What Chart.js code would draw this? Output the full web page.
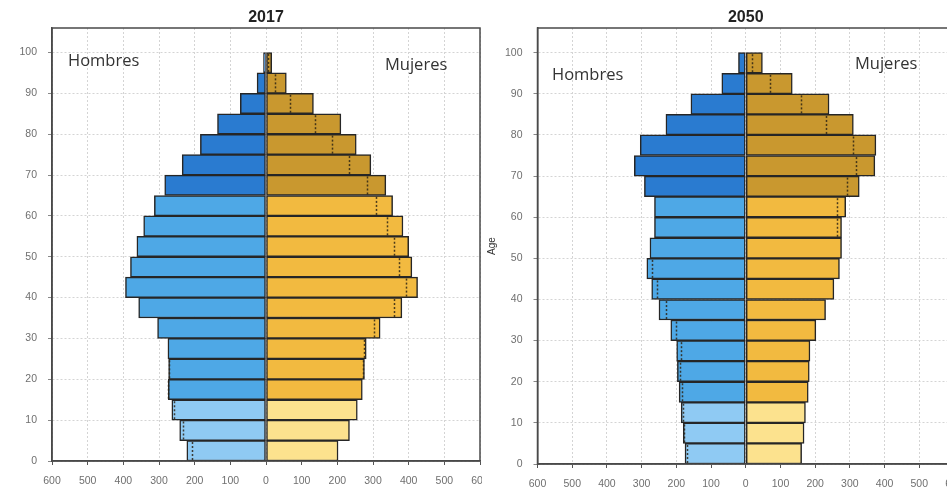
<!DOCTYPE html>
<html>
<head>
<meta charset="utf-8">
<script src="https://cdn.jsdelivr.net/npm/chart.js@4.4.1/dist/chart.umd.min.js"></script>
<style>
  html, body { margin: 0; padding: 0; background: #fff; overflow: hidden; width: 947px; height: 490px; }
  .box { position: absolute; top: 0; height: 490px; }
  #boxLeft { left: 0; width: 482px; }
  #boxRight { left: 482px; width: 476px; }
</style>
</head>
<body>
<div class="box" id="boxLeft"><canvas id="chart2017"></canvas></div>
<div class="box" id="boxRight"><canvas id="chart2050"></canvas></div>
<script>
// Grupos de edad (inicio de cada tramo de 5 años), de abajo hacia arriba
const ageStart = [0, 5, 10, 15, 20, 25, 30, 35, 40, 45, 50, 55, 60, 65, 70, 75, 80, 85, 90, 95];

// 2017 (miles de personas)
const hombres2017 = [222, 242, 264, 274, 273, 275, 304, 357, 394, 380, 362, 343, 313, 284, 235, 184, 136, 72, 25, 7];
const mujeres2017 = [202, 234, 256, 270, 276, 281, 320, 381, 425, 409, 400, 384, 355, 336, 294, 253, 210, 133, 57, 16];
// líneas punteadas (valores de referencia dentro de cada barra)
const hombresRef2017 = [207, 234, 257, 274, 271, null, null, null, null, null, null, null, null, null, null, null, null, null, null, null];
const mujeresRef2017 = [null, null, null, null, 271, 274, 302, 358, 393, 374, 360, 339, 309, 283, 234, 185, 136, 68, 26, 7];

// 2050
const hombres2050 = [175, 180, 186, 192, 197, 199, 216, 250, 271, 285, 276, 263, 263, 292, 321, 304, 230, 158, 69, 21];
const mujeres2050 = [161, 168, 172, 180, 183, 185, 202, 230, 254, 270, 276, 276, 288, 327, 372, 375, 310, 240, 134, 48];
const hombresRef2050 = [170, 178, 182, 184, 189, 187, 202, 230, 256, 271, null, null, null, null, null, null, null, null, null, null];
const mujeresRef2050 = [null, null, null, null, null, null, null, null, null, null, null, 262, 262, 293, 318, 308, 230, 158, 70, 17];

const xTicks = [-600, -500, -400, -300, -200, -100, 0, 100, 200, 300, 400, 500, 600];

// colores: 0-14 claro, 15-64 medio, 65+ oscuro
const azul = { claro: '#8fcaf3', medio: '#4ea8e6', oscuro: '#2a7bd0' };
const oro = { claro: '#fce28e', medio: '#f2ba40', oscuro: '#c9982f' };

function colores(pal) {
    return ageStart.map(a => a < 15 ? pal.claro : (a < 65 ? pal.medio : pal.oscuro));
}

// plugin: marco, título, textos y líneas punteadas
const piramidePlugin = {
    id: 'piramide',
    afterDatasetsDraw(chart, args, opts) {
        const { ctx, chartArea, scales } = chart;
        const xs = scales.x, ys = scales.y;

        // líneas punteadas de referencia
        ctx.save();
        ctx.setLineDash([2, 2]);
        ctx.lineWidth = 1.5;
        ctx.strokeStyle = 'rgba(45,35,20,0.85)';
        const drawRef = (vals, sign) => {
            vals.forEach((v, i) => {
                if (v == null) return;
                const x = Math.round(xs.getPixelForValue(sign * v)) + 0.5;
                const y0 = ys.getPixelForValue(ageStart[i]);
                const y1 = ys.getPixelForValue(ageStart[i] + 5);
                ctx.beginPath();
                ctx.moveTo(x, y0 - 1);
                ctx.lineTo(x, y1 + 1);
                ctx.stroke();
            });
        };
        drawRef(opts.refHombres, -1);
        drawRef(opts.refMujeres, 1);
        ctx.restore();

        // marco
        ctx.save();
        ctx.strokeStyle = '#4a4a4a';
        ctx.lineWidth = 1.5;
        ctx.strokeRect(chartArea.left, chartArea.top, chartArea.right - chartArea.left, chartArea.bottom - chartArea.top);
        ctx.restore();

        // título
        ctx.save();
        ctx.fillStyle = '#222';
        ctx.font = 'bold 16px "Liberation Sans", Arial, sans-serif';
        ctx.textAlign = 'center';
        ctx.textBaseline = 'middle';
        ctx.fillText(opts.titulo, (chartArea.left + chartArea.right) / 2, 18);

        // Hombres / Mujeres
        ctx.fillStyle = '#333';
        ctx.font = '16.5px "Open Sans", sans-serif';
        ctx.textAlign = 'left';
        ctx.fillText('Hombres', opts.hombresPos[0], opts.hombresPos[1]);
        ctx.fillText('Mujeres', opts.mujeresPos[0], opts.mujeresPos[1]);

        // título del eje Y
        if (opts.ejeY) {
            ctx.save();
            ctx.translate(10, 246);
            ctx.rotate(-Math.PI / 2);
            ctx.textAlign = 'center';
            ctx.font = '10px "Liberation Sans", Arial, sans-serif';
            ctx.fillStyle = '#333';
            ctx.fillText(opts.ejeY, 0, 0);
            ctx.restore();
        }
        ctx.restore();
    }
};

function sinPadding(s) {
    s.paddingLeft = 0;
    s.paddingRight = 0;
    s.paddingTop = 0;
    s.paddingBottom = 0;
}

function crearPiramide(canvasId, cfg) {
    const tickFont = { family: '"Liberation Sans", Arial, sans-serif', size: 10.5 };
    return new Chart(document.getElementById(canvasId), {
        type: 'bar',
        data: {
            datasets: [
                {
                    label: 'Hombres',
                    data: cfg.hombres.map((v, i) => ({ x: -v, y: ageStart[i] + 2.5 })),
                    backgroundColor: colores(azul),
                    borderColor: '#262626',
                    borderWidth: 1.5,
                    borderSkipped: false,
                    grouped: false,
                    categoryPercentage: 1,
                    barPercentage: 1
                },
                {
                    label: 'Mujeres',
                    data: cfg.mujeres.map((v, i) => ({ x: v, y: ageStart[i] + 2.5 })),
                    backgroundColor: colores(oro),
                    borderColor: '#262626',
                    borderWidth: 1.5,
                    borderSkipped: false,
                    grouped: false,
                    categoryPercentage: 1,
                    barPercentage: 1
                }
            ]
        },
        options: {
            indexAxis: 'y',
            responsive: true,
            maintainAspectRatio: false,
            animation: false,
            layout: { padding: { top: 28, right: cfg.padRight, left: 0, bottom: 0 } },
            plugins: {
                legend: { display: false },
                tooltip: { enabled: false },
                piramide: {
                    titulo: cfg.titulo,
                    refHombres: cfg.refHombres,
                    refMujeres: cfg.refMujeres,
                    hombresPos: cfg.hombresPos,
                    mujeresPos: cfg.mujeresPos,
                    ejeY: cfg.ejeY
                }
            },
            scales: {
                x: {
                    type: 'linear',
                    min: -600,
                    max: 600,
                    offset: false,
                    afterBuildTicks: s => { s.ticks = xTicks.map(v => ({ value: v })); },
                    ticks: {
                        callback: v => Math.abs(v),
                        font: tickFont,
                        color: '#6f6f6f',
                        padding: 10,
                        maxRotation: 0
                    },
                    grid: { offset: false, color: '#d4d4d4', lineWidth: 1, tickColor: '#555', tickLength: 4, tickBorderDash: [] },
                    border: { color: '#4a4a4a', width: 1.5, dash: [2, 2] },
                    afterFit: s => { s.height = cfg.xHeight; sinPadding(s); }
                },
                y: {
                    type: 'linear',
                    min: 0,
                    max: 106,
                    offset: false,
                    ticks: {
                        stepSize: 10,
                        includeBounds: false,
                        font: tickFont,
                        color: '#6f6f6f',
                        padding: 11
                    },
                    grid: { offset: false, color: '#d4d4d4', lineWidth: 1, tickColor: '#888', tickLength: 4, tickBorderDash: [] },
                    border: { color: '#4a4a4a', width: 1.5, dash: [2, 2] },
                    afterFit: s => { s.width = cfg.yWidth; sinPadding(s); }
                }
            }
        },
        plugins: [piramidePlugin]
    });
}

crearPiramide('chart2017', {
    titulo: '2017',
    hombres: hombres2017,
    mujeres: mujeres2017,
    refHombres: hombresRef2017,
    refMujeres: mujeresRef2017,
    hombresPos: [68, 61],
    mujeresPos: [385, 65],
    ejeY: null,
    padRight: 2,
    yWidth: 52,
    xHeight: 29
});

crearPiramide('chart2050', {
    titulo: '2050',
    hombres: hombres2050,
    mujeres: mujeres2050,
    refHombres: hombresRef2050,
    refMujeres: mujeresRef2050,
    hombresPos: [70, 75],
    mujeresPos: [373, 64],
    ejeY: 'Age',
    padRight: 4,
    yWidth: 55.5,
    xHeight: 26
});
</script>
</body>
</html>
